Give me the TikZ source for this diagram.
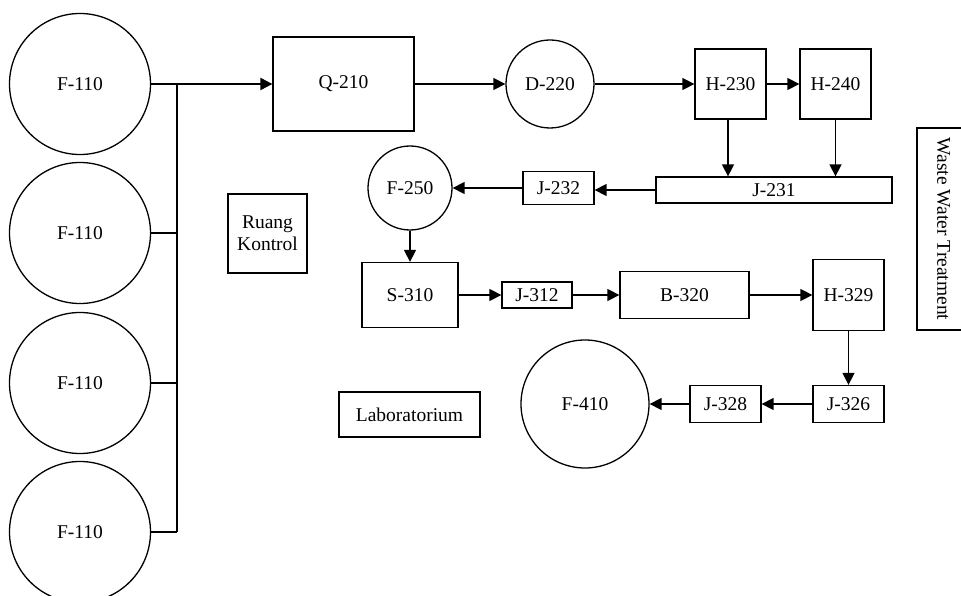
\documentclass[tikz,border=0pt]{standalone}
\usepackage{fontspec}
\setmainfont{Liberation Serif}
\usetikzlibrary{arrows.meta}
\begin{document}
\begin{tikzpicture}[x=1pt,y=-1pt,
  font=\fontsize{19.5}{22}\selectfont,
  line width=1.5pt,
  tank/.style={draw,circle,inner sep=0pt,line width=1.3pt},
  unit/.style={draw,rectangle,inner sep=0pt,line width=1.3pt,align=center},
  flow/.style={-{Triangle[length=12pt,width=12pt]}},
  bus/.style={line width=2.2pt}]
\useasboundingbox (0,0) rectangle (961,596);
% feed tanks
\node[tank,minimum size=141pt] (f1) at (80,84) {F-110};
\node[tank,minimum size=141pt] (f2) at (80,233) {F-110};
\node[tank,minimum size=141pt] (f3) at (80,383) {F-110};
\node[tank,minimum size=141pt] (f4) at (80,532) {F-110};
% units
\node[unit,minimum width=141pt,minimum height=94pt] (q210) at (343.5,84) {Q-210};
\node[tank,minimum size=88pt] (d220) at (550,84) {D-220};
\node[unit,minimum width=71pt,minimum height=70pt] (h230) at (730.5,84) {H-230};
\node[unit,minimum width=71pt,minimum height=70pt] (h240) at (835.5,84) {H-240};
\node[unit,minimum width=236pt,minimum height=26pt] (j231) at (774,190) {J-231};
\node[unit,minimum width=71pt,minimum height=33pt] (j232) at (558.5,188) {J-232};
\node[tank,minimum size=84pt] (f250) at (410,188) {F-250};
\node[unit,minimum width=96pt,minimum height=65pt] (s310) at (410,295) {S-310};
\node[unit,minimum width=70pt,minimum height=26pt] (j312) at (537,295) {J-312};
\node[unit,minimum width=129pt,minimum height=47pt] (b320) at (684.5,295) {B-320};
\node[unit,minimum width=71pt,minimum height=71pt] (h329) at (848.5,295) {H-329};
\node[unit,minimum width=71pt,minimum height=37pt] (j326) at (848.5,404) {J-326};
\node[unit,minimum width=71pt,minimum height=37pt] (j328) at (725.5,404) {J-328};
\node[tank,minimum size=128pt] (f410) at (585,404) {F-410};
\node[unit,minimum width=141pt,minimum height=45pt] (lab) at (409.5,414.5) {Laboratorium};
\node[unit,minimum width=79pt,minimum height=79pt] (rk) at (267.5,233.5) {Ruang\\Kontrol};
\node[unit,minimum width=53pt,minimum height=202pt] (wwt) at (943.5,229) {};
\node[rotate=-90] at (wwt.center) {Waste Water Treatment};
% header bus
\coordinate (b1) at (177,84);
\coordinate (b4) at (177,532);
\draw[line width=1.3pt] (f1.east) -- (b1);
\draw[line width=1.3pt] (f2.east) -- (b1 |- f2.east);
\draw[line width=1.3pt] (f3.east) -- (b1 |- f3.east);
\draw[line width=1.3pt] (f4.east) -- (b4);
\draw[bus] (b1) -- (b4);
\draw[bus,flow] (b1) -- (q210.west);
% main flows
\draw[flow] (q210.east) -- (d220.west);
\draw[flow] (d220.east) -- (h230.west);
\draw[flow] (h230.east) -- (h240.west);
\draw[flow] ([xshift=-2.5pt]h230.south) -- ([xshift=-2.5pt]h230.south |- j231.north);
\draw[flow] (h240.south) -- (h240.south |- j231.north);
\draw[flow] (j231.west) -- (j232.east |- j231.west);
\draw[flow] (j232.west) -- (f250.east);
\draw[flow] (f250.south) -- (s310.north);
\draw[flow] (s310.east) -- (j312.west);
\draw[flow] (j312.east) -- (b320.west);
\draw[flow] (b320.east) -- (h329.west);
\draw[flow] (h329.south) -- (j326.north);
\draw[flow] (j326.west) -- (j328.east);
\draw[flow] (j328.west) -- (f410.east);
\end{tikzpicture}
\end{document}
